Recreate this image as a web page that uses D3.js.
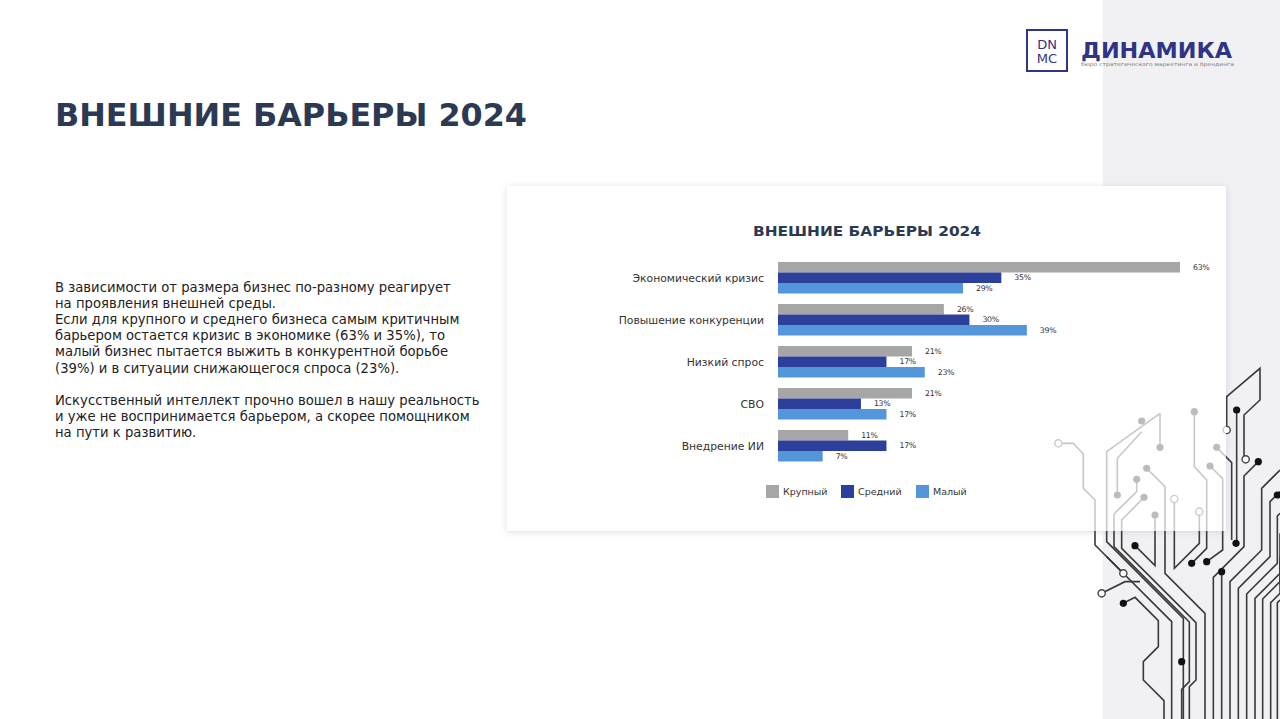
<!DOCTYPE html>
<html><head><meta charset="utf-8">
<script src="https://cdn.jsdelivr.net/npm/d3@7"></script>
<style>
html,body{margin:0;padding:0;background:#fff;}
svg{display:block;}
</style></head>
<body>
<svg id="c" width="1280" height="719"></svg>
<script>
// ---- data ----
const categories = ["Экономический кризис","Повышение конкуренции","Низкий спрос","СВО","Внедрение ИИ"];
const seriesNames = ["Крупный","Средний","Малый"];
const krupny = [63,26,21,21,11];
const sredny = [35,30,17,13,17];
const maly = [29,39,23,17,7];
const pageTitle = "ВНЕШНИЕ БАРЬЕРЫ 2024";
const chartTitle = "ВНЕШНИЕ БАРЬЕРЫ 2024";
const bodyLines = [
 "В зависимости от размера бизнес по-разному реагирует",
 "на проявления внешней среды.",
 "Если для крупного и среднего бизнеса самым критичным",
 "барьером остается кризис в экономике (63% и 35%), то",
 "малый бизнес пытается выжить в конкурентной борьбе",
 "(39%) и в ситуации снижающегося спроса (23%).",
 "",
 "Искусственный интеллект прочно вошел в нашу реальность",
 "и уже не воспринимается барьером, а скорее помощником",
 "на пути к развитию."
];

const seriesValues = [krupny, sredny, maly];
const colors = ["#a6a6a6","#2c3f9b","#5397da"];
const svg = d3.select("#c");
const FONT = "'DejaVu Sans', sans-serif";

// background strip
svg.append("rect").attr("x",1103).attr("y",0).attr("width",177).attr("height",719).attr("fill","#f1f1f4");

// shadow filter
const defs = svg.append("defs");
const f = defs.append("filter").attr("id","sh").attr("x","-5%").attr("y","-5%").attr("width","110%").attr("height","115%");
f.append("feDropShadow").attr("dx",0).attr("dy",1).attr("stdDeviation",3).attr("flood-color","#9aa0b8").attr("flood-opacity",0.35);

// panel base with shadow
svg.append("rect").attr("x",507).attr("y",186).attr("width",719).attr("height",345)
 .attr("fill","#fff").attr("filter","url(#sh)");

// circuit decoration (zoom-space coords -> page)
const cx = v => 1040 + v/3, cy = v => 360 + v/3;
const traces = [
 [[55,250],[100,250],[130,282],[130,385],[165,420],[165,555],[395,785],[395,1080]],
 [[360,160],[200,275],[200,545],[430,775],[430,1080]],
 [[360,160],[360,262]],
 [[232,405],[232,295],[305,215]],
 [[290,358],[290,395],[222,462],[222,560],[448,786],[448,965],[425,988],[425,1080]],
 [[312,412],[245,480],[245,565],[468,788],[468,960],[448,980],[448,1080]],
 [[285,557],[345,617],[345,465]],
 [[320,325],[375,380],[375,640],[495,760],[495,1080]],
 [[403,417],[403,625],[478,550],[478,455]],
 [[463,155],[463,320],[500,360],[500,565],[455,610]],
 [[510,318],[548,356],[548,570],[500,605]],
 [[530,262],[575,308],[575,540]],
 [[590,150],[590,550]],
 [[560,210],[560,110],[660,25],[660,120],[612,165],[612,290]],
 [[655,305],[612,348],[612,560],[520,652],[520,1080]],
 [[545,635],[545,1080]],
 [[720,330],[665,385],[665,570],[570,665],[570,1080]],
 [[720,395],[690,425],[690,590],[595,685],[595,1080]],
 [[720,460],[712,468],[712,610],[620,702],[620,1080]],
 [[720,520],[720,640],[645,715],[645,1080]],
 [[720,590],[720,665],[668,717],[668,1080]],
 [[720,650],[720,700],[692,728],[692,1080]],
 [[720,720],[712,728],[712,1080]],
 [[185,700],[255,665],[300,665]],
 [[250,730],[285,712],[355,782],[355,860],[310,905],[310,960],[372,1022],[372,1080]],
 [[250,640],[200,590]]
];
const line = d3.line().x(d=>cx(d[0])).y(d=>cy(d[1]));
const deco = svg.append("g");
deco.selectAll("path").data(traces).join("path").attr("d",line)
 .attr("fill","none").attr("stroke","#3a3a3a").attr("stroke-width",1.6);
const dots = [[305,183],[360,262],[232,405],[290,358],[312,412],[285,557],[345,465],[320,325],[463,155],[455,610],[510,318],[500,605],[530,262],[590,150],[588,550],[655,305],[545,635],[712,405],[250,730],[425,905]];
const rings = [[55,250],[403,417],[478,455],[560,210],[617,298],[250,640],[185,700]];
deco.selectAll("circle.d").data(dots).join("circle").attr("class","d")
 .attr("cx",d=>cx(d[0])).attr("cy",d=>cy(d[1])).attr("r",3.6).attr("fill","#111");
deco.selectAll("circle.r").data(rings).join("circle").attr("class","r")
 .attr("cx",d=>cx(d[0])).attr("cy",d=>cy(d[1])).attr("r",3.6).attr("fill","#fff").attr("stroke","#444").attr("stroke-width",1.4);

// translucent panel overlay (lightens circuit behind)
svg.append("rect").attr("x",507).attr("y",186).attr("width",719).attr("height",345)
 .attr("fill","#fff").attr("fill-opacity",0.72);

// logo
const logo = svg.append("g");
logo.append("rect").attr("x",1027).attr("y",30).attr("width",40).attr("height",41).attr("fill","none").attr("stroke","#2f3584").attr("stroke-width",2);
logo.append("text").attr("x",1047).attr("y",49).attr("text-anchor","middle").attr("font-family",FONT).attr("font-size",13).attr("fill","#2f3584").text("DN");
logo.append("text").attr("x",1047).attr("y",63).attr("text-anchor","middle").attr("font-family",FONT).attr("font-size",13).attr("fill","#2f3584").text("MC");
logo.append("text").attr("x",1081).attr("y",58).attr("font-family",FONT).attr("font-size",21).attr("font-weight","bold").attr("fill","#2f3584")
 .attr("textLength",151).attr("lengthAdjust","spacingAndGlyphs").text("ДИНАМИКА");
logo.append("text").attr("x",1081).attr("y",66).attr("font-family",FONT).attr("font-size",5).attr("fill","#777")
 .attr("textLength",153).attr("lengthAdjust","spacingAndGlyphs").text("бюро стратегического маркетинга и брендинга");

// page title
svg.append("text").attr("x",55).attr("y",126).attr("font-family",FONT).attr("font-size",32).attr("font-weight","bold")
 .attr("fill","#2b3a52").attr("textLength",472).attr("lengthAdjust","spacingAndGlyphs").text(pageTitle);

// body text
const body = svg.append("text").attr("font-family",FONT).attr("font-size",13.2).attr("fill","#222");
bodyLines.forEach((t,i)=>{
  body.append("tspan").attr("x",55).attr("y",291.5 + i*16.2).text(t);
});

// chart title
svg.append("text").attr("x",867).attr("y",236).attr("text-anchor","middle").attr("font-family",FONT).attr("font-size",14.5).attr("font-weight","bold")
 .attr("fill","#2b3a52").attr("textLength",228).attr("lengthAdjust","spacingAndGlyphs").text(chartTitle);

// scales
const x = d3.scaleLinear().domain([0,63]).range([778,1180]);
const y = d3.scaleBand().domain(categories).range([262,461.5]).paddingInner(0.25).paddingOuter(0);
const yi = d3.scaleBand().domain(seriesNames).range([0,y.bandwidth()]).padding(0);

const g = svg.append("g");
const groups = g.selectAll("g.cat").data(categories).join("g").attr("class","cat")
 .attr("transform",d=>`translate(0,${y(d)})`);
groups.each(function(cat,ci){
  const gg = d3.select(this);
  seriesNames.forEach((s,si)=>{
    const v = seriesValues[si][ci];
    gg.append("rect").attr("x",x(0)).attr("y",yi(s)).attr("width",x(v)-x(0)).attr("height",yi.bandwidth()).attr("fill",colors[si]);
    gg.append("text").attr("x",x(v)+13).attr("y",yi(s)+yi.bandwidth()/2).attr("dy","0.35em")
      .attr("font-family",FONT).attr("font-size",7.8).attr("fill","#333").attr("letter-spacing",-0.3).text(v+"%");
  });
});

// category axis labels
const ax = d3.axisLeft(y).tickSize(0).tickPadding(0);
const axg = svg.append("g").attr("transform",`translate(764,0)`).call(ax);
axg.select(".domain").remove();
axg.selectAll("text").attr("font-family",FONT).attr("font-size",10.8).attr("fill","#333")
  .attr("dy","0.35em");

// legend
const leg = svg.append("g");
const legX = [766,841,916];
seriesNames.forEach((s,i)=>{
  leg.append("rect").attr("x",legX[i]).attr("y",485).attr("width",13).attr("height",13).attr("fill",colors[i]);
  leg.append("text").attr("x",legX[i]+17).attr("y",491.5).attr("dy","0.35em").attr("font-family",FONT).attr("font-size",9.5).attr("fill","#333").text(s);
});
</script>
</body></html>
